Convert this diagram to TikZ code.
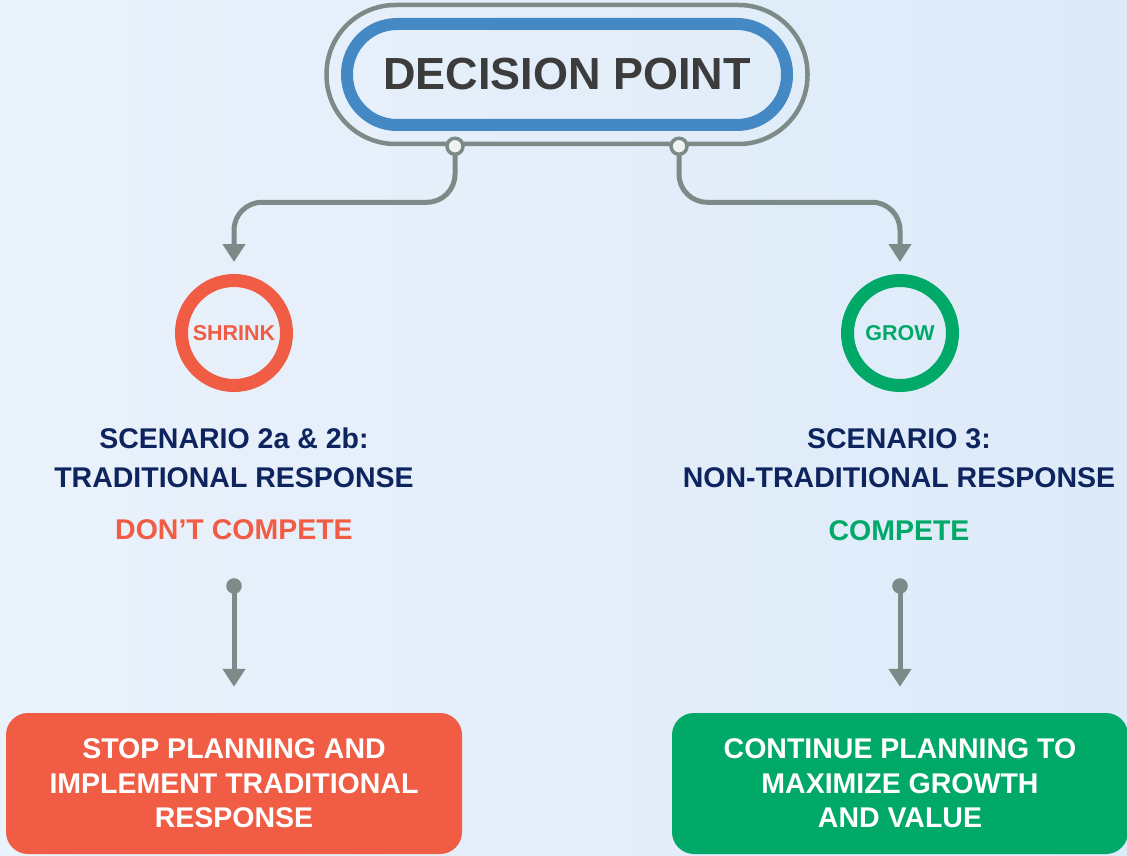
\documentclass[tikz,border=0pt]{standalone}
\usepackage{fontspec}
\setmainfont{Liberation Sans}
\usetikzlibrary{arrows.meta,positioning,calc}
\definecolor{bgblue}{RGB}{221,234,248}
\definecolor{bglight}{RGB}{234,242,251}
\definecolor{pillblue}{RGB}{68,136,196}
\definecolor{linegrey}{RGB}{124,139,136}
\definecolor{jointfill}{RGB}{240,242,242}
\definecolor{titlegrey}{RGB}{60,60,60}
\definecolor{navy}{RGB}{14,36,94}
\definecolor{shrinkred}{RGB}{240,92,68}
\definecolor{growgreen}{RGB}{0,169,104}

\begin{document}
\begin{tikzpicture}[x=1pt,y=-1pt,
    flow/.style={linegrey,line width=5pt,-{Triangle[length=18pt,width=22pt]}},
    joint/.style={circle,inner sep=0pt,minimum size=#1,draw=linegrey,line width=3.5pt},
    ring/.style={circle,draw=#1,text=#1,line width=13pt,minimum size=105pt,inner sep=0pt,
      font=\bfseries\fontsize{21.5}{24}\selectfont},
    scentext/.style={text=#1,align=center,inner sep=0pt,font=\bfseries\fontsize{28.5}{38.5}\selectfont},
    outcome/.style={rounded corners=22pt,fill=#1,text=white,minimum width=456pt,minimum height=141pt,
      align=center,inner sep=0pt,font=\bfseries\fontsize{28.5}{34.5}\selectfont}]
    \useasboundingbox (0,0) rectangle (1127,856);
    \shade[left color=bglight,right color=bgblue] (0,0) rectangle (1127,856);

    % decision pill
    \node[draw=linegrey,line width=4.5pt,rounded corners=69pt,minimum width=481pt,minimum height=139pt] (frame) at (567,74.5) {};
    \node[draw=pillblue,line width=12pt,rounded corners=50pt,minimum width=440pt,minimum height=101pt,
      text=titlegrey,font=\bfseries\fontsize{45}{50}\selectfont] (decision) at (567,74.5) {DECISION POINT};
    \coordinate (jointL) at ([xshift=-112pt]frame.south);
    \coordinate (jointR) at ([xshift=112pt]frame.south);

    % two branches
    \node[ring=shrinkred] (shrink) at (234,333) {SHRINK};
    \node[ring=growgreen] (grow) at (900,333) {GROW};
    \draw[flow,rounded corners=28pt] (jointL) -- ++(0,56) -| ([yshift=12pt]shrink.north);
    \draw[flow,rounded corners=28pt] (jointR) -- ++(0,56) -| ([yshift=12pt]grow.north);
    \node[joint=16pt,fill=jointfill] (dotL) at (jointL) {};
    \node[joint=16pt,fill=jointfill] (dotR) at (jointR) {};

    \node[scentext=navy] (scenA) at (234,458) {SCENARIO 2a \& 2b:\\TRADITIONAL RESPONSE};
    \node[scentext=navy] (scenB) at (899,458) {SCENARIO 3:\\NON-TRADITIONAL RESPONSE};
    \node[scentext=shrinkred] (dontA) at (234,530) {DON’T COMPETE};
    \node[scentext=growgreen] (compB) at (899,531) {COMPETE};

    % outcomes
    \node[outcome=shrinkred] (stop) at (234,783.5) {STOP PLANNING AND\\IMPLEMENT TRADITIONAL\\RESPONSE};
    \node[outcome=growgreen] (cont) at (900,783.5) {CONTINUE PLANNING TO\\MAXIMIZE GROWTH\\AND VALUE};
    \node[joint=12pt,fill=linegrey] (dotA) at (234,586) {};
    \node[joint=12pt,fill=linegrey] (dotB) at (900,586) {};
    \draw[flow,shorten >=26pt] (dotA.center) -- (stop.north);
    \draw[flow,shorten >=26pt] (dotB.center) -- (cont.north);
  \end{tikzpicture}
\end{document}
